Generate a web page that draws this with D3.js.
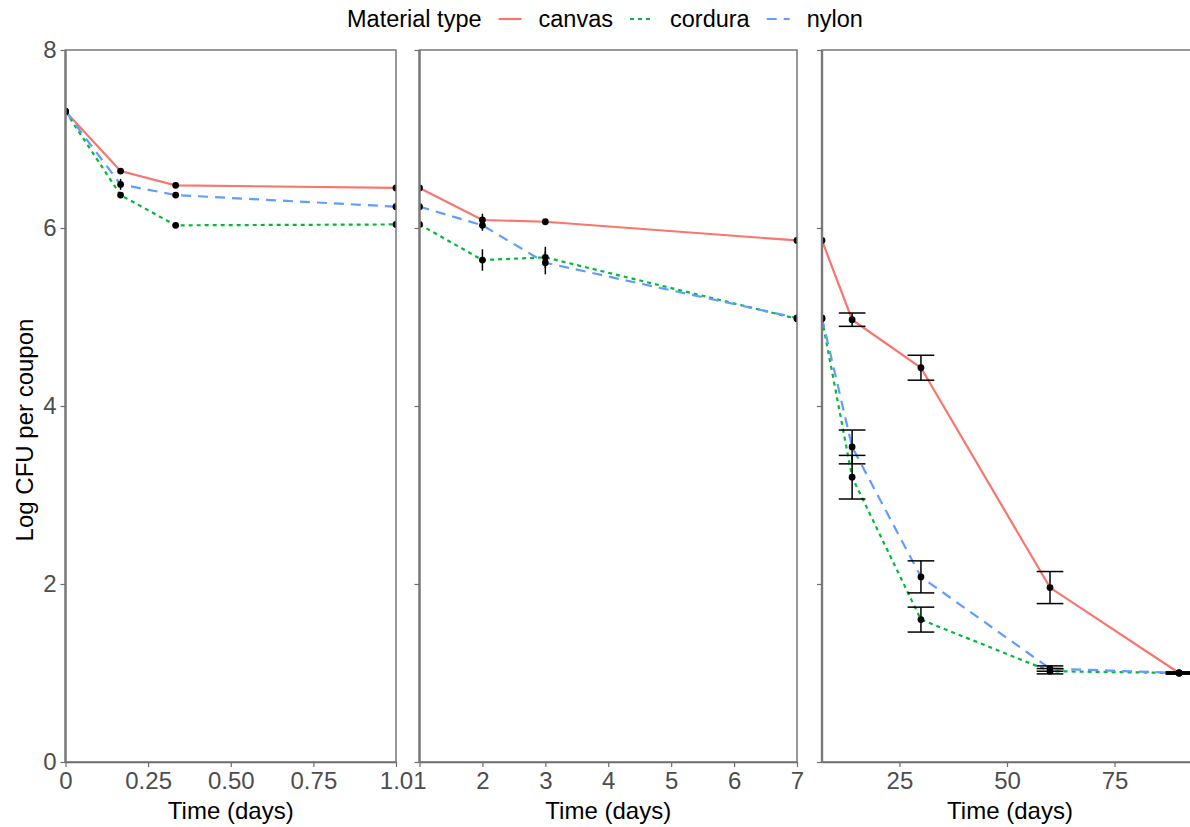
<!DOCTYPE html>
<html>
<head>
<meta charset="utf-8">
<script src="https://cdn.jsdelivr.net/npm/d3@7/dist/d3.min.js"></script>
<style>
  html, body { margin: 0; padding: 0; background: #fff; }
  svg { display: block; font-family: "Liberation Sans", Arial, sans-serif; }
</style>
</head>
<body>
<svg id="chart" width="1190" height="827"></svg>
<script>
// ---- data ----
const materials = ["canvas", "cordura", "nylon"];
const legendTitle = "Material type";
const yTicks = [0, 2, 4, 6, 8];

// Panel 1: first day
const times1 = [0, 1/6, 1/3, 1];
const canvas1 = [7.31, 6.64, 6.48, 6.45];
const cordura1 = [7.31, 6.37, 6.03, 6.04];
const nylon1 = [7.31, 6.49, 6.37, 6.24];
const canvas1Err = [0.02, 0.03, 0.03, 0.02];
const cordura1Err = [0.02, 0.03, 0.03, 0.02];
const nylon1Err = [0.02, 0.06, 0.03, 0.02];
const ticks1 = [0, 0.25, 0.5, 0.75, 1.0];
const tickLabels1 = ["0", "0.25", "0.50", "0.75", "1.0"];

// Panel 2: first week
const times2 = [1, 2, 3, 7];
const canvas2 = [6.45, 6.09, 6.07, 5.86];
const cordura2 = [6.04, 5.64, 5.67, 4.98];
const nylon2 = [6.24, 6.03, 5.61, 4.99];
const canvas2Err = [0.02, 0.07, 0.03, 0.02];
const cordura2Err = [0.02, 0.12, 0.12, 0.03];
const nylon2Err = [0.02, 0.06, 0.13, 0.03];
const ticks2 = [1, 2, 3, 4, 5, 6, 7];
const tickLabels2 = ["1", "2", "3", "4", "5", "6", "7"];

// Panel 3: long term
const times3 = [7, 14, 30, 60, 90];
const canvas3 = [5.86, 4.97, 4.43, 1.96, 1.00];
const cordura3 = [4.98, 3.20, 1.60, 1.02, 1.00];
const nylon3 = [4.99, 3.54, 2.08, 1.05, 1.00];
const canvas3Err = [0, 0.075, 0.14, 0.18, 0.01];
const cordura3Err = [0, 0.245, 0.14, 0.03, 0.01];
const nylon3Err = [0, 0.19, 0.18, 0.03, 0.01];
const ticks3 = [25, 50, 75];
const tickLabels3 = ["25", "50", "75"];

const xTitle = "Time (days)";
const yTitle = "Log CFU per coupon";

// ---- styles ----
const colors = { canvas: "#F8766D", cordura: "#00BA38", nylon: "#619CFF" };
const dashes = { canvas: null, cordura: "4,4", nylon: "10,7" };
const fontSize = 24;
const legendFont = 23.5;

const panels = [
  { times: times1, series: { canvas: canvas1, cordura: cordura1, nylon: nylon1 },
    errs: { canvas: canvas1Err, cordura: cordura1Err, nylon: nylon1Err },
    domain: [0, 1], range: [65.5, 396], ticks: ticks1, labels: tickLabels1, capDays: 0, yLabels: true },
  { times: times2, series: { canvas: canvas2, cordura: cordura2, nylon: nylon2 },
    errs: { canvas: canvas2Err, cordura: cordura2Err, nylon: nylon2Err },
    domain: [1, 7], range: [419.5, 797], ticks: ticks2, labels: tickLabels2, capDays: 0, yLabels: false },
  { times: times3, series: { canvas: canvas3, cordura: cordura3, nylon: nylon3 },
    errs: { canvas: canvas3Err, cordura: cordura3Err, nylon: nylon3Err },
    domain: [7, 94.4], range: [822, 1198], ticks: ticks3, labels: tickLabels3, capDays: 3.1, yLabels: false }
];

const svg = d3.select("#chart");
const y = d3.scaleLinear().domain([0, 8]).range([762, 50]);

panels.forEach((p, i) => {
  const x = d3.scaleLinear().domain(p.domain).range(p.range);
  const g = svg.append("g");

  const clipId = "clip" + i;
  svg.append("clipPath").attr("id", clipId).append("rect")
    .attr("x", p.range[0]).attr("y", 40).attr("width", p.range[1] - p.range[0]).attr("height", 740);

  const plot = g.append("g").attr("clip-path", `url(#${clipId})`);
  materials.forEach(m => {
    const pts = p.times.map((t, k) => [t, p.series[m][k]]);
    plot.append("path")
      .attr("d", d3.line().x(d => x(d[0])).y(d => y(d[1]))(pts))
      .attr("fill", "none")
      .attr("stroke", colors[m])
      .attr("stroke-width", 2.2)
      .attr("stroke-dasharray", dashes[m]);
  });
  materials.forEach(m => {
    p.times.forEach((t, k) => {
      const v = p.series[m][k], e = p.errs[m][k];
      const cx = x(t);
      if (e > 0) {
        plot.append("line").attr("x1", cx).attr("x2", cx)
          .attr("y1", y(v - e)).attr("y2", y(v + e))
          .attr("stroke", "#000").attr("stroke-width", 1.5);
        if (p.capDays > 0) {
          [v - e, v + e].forEach(yy => {
            plot.append("line")
              .attr("x1", x(t - p.capDays)).attr("x2", x(t + p.capDays))
              .attr("y1", y(yy)).attr("y2", y(yy))
              .attr("stroke", "#000").attr("stroke-width", 1.5);
          });
        }
      }
      plot.append("circle").attr("cx", cx).attr("cy", y(v)).attr("r", 3.4).attr("fill", "#000");
    });
  });

  // panel border
  g.append("rect")
    .attr("x", p.range[0]).attr("y", 50)
    .attr("width", p.range[1] - p.range[0]).attr("height", 712)
    .attr("fill", "none").attr("stroke", "#6e6e6e").attr("stroke-width", 1.4);
  g.append("line").attr("x1", p.range[0]).attr("x2", p.range[0]).attr("y1", 50).attr("y2", 762)
    .attr("stroke", "#7a7a7a").attr("stroke-width", 2.4);

  // x axis
  const xAxis = d3.axisBottom(x).tickValues(p.ticks)
    .tickFormat((d, k) => p.labels[k]).tickSize(5).tickPadding(5).tickSizeOuter(0);
  const xa = g.append("g").attr("transform", "translate(0,762)").call(xAxis);
  xa.select(".domain").attr("stroke", "#6e6e6e").attr("stroke-width", 1.4);
  xa.selectAll(".tick line").attr("stroke", "#6e6e6e").attr("stroke-width", 1.2);
  xa.selectAll(".tick text").attr("font-size", fontSize).attr("fill", "#4d4d4d")
    .attr("font-family", "Liberation Sans, Arial, sans-serif");

  // y axis
  const yAxis = d3.axisLeft(y).tickValues(yTicks).tickSize(5).tickPadding(4).tickSizeOuter(0)
    .tickFormat(p.yLabels ? d3.format("d") : () => "");
  const ya = g.append("g").attr("transform", `translate(${p.range[0]},0)`).call(yAxis);
  ya.select(".domain").remove();
  ya.selectAll(".tick line").attr("stroke", "#6e6e6e").attr("stroke-width", 1.2);
  ya.selectAll(".tick text").attr("font-size", fontSize).attr("fill", "#4d4d4d")
    .attr("font-family", "Liberation Sans, Arial, sans-serif");

  // x title
  svg.append("text")
    .attr("x", (p.range[0] + p.range[1]) / 2).attr("y", 819)
    .attr("text-anchor", "middle").attr("font-size", fontSize).attr("fill", "#000")
    .text(xTitle);
});

// y title
svg.append("text")
  .attr("transform", "translate(33,430) rotate(-90)")
  .attr("text-anchor", "middle").attr("font-size", fontSize).attr("fill", "#000")
  .text(yTitle);

// legend
const legend = svg.append("g");
const legTitle = legend.append("text").attr("x", 347).attr("y", 27)
  .attr("font-size", legendFont).attr("fill", "#000").text(legendTitle);
let lx = 347 + legTitle.node().getComputedTextLength() + 17;
materials.forEach(m => {
  legend.append("line").attr("x1", lx).attr("x2", lx + 23).attr("y1", 19).attr("y2", 19)
    .attr("stroke", colors[m]).attr("stroke-width", 2.2).attr("stroke-dasharray", dashes[m]);
  const t = legend.append("text").attr("x", lx + 40).attr("y", 27)
    .attr("font-size", legendFont).attr("fill", "#000").text(m);
  lx = lx + 40 + t.node().getComputedTextLength() + 17;
});
</script>
</body>
</html>
